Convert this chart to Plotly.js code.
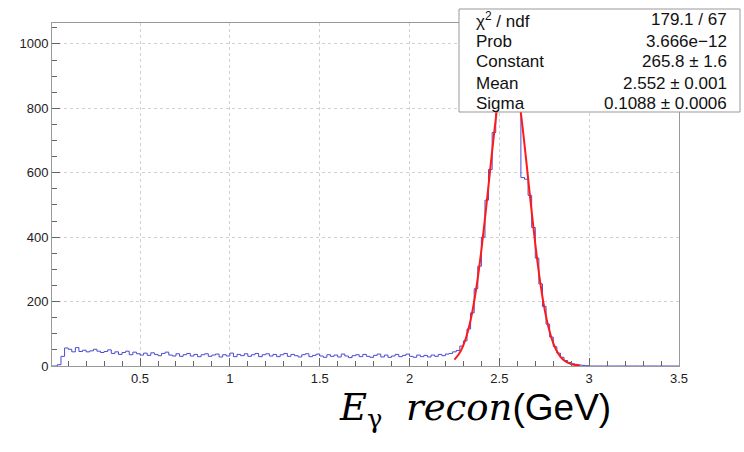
<!DOCTYPE html>
<html>
<head>
<meta charset="utf-8">
<script src="https://cdn.plot.ly/plotly-3.0.1.min.js"></script>
<style>
html,body{margin:0;padding:0;background:#fff;}
#chart{width:744px;height:452px;}
</style>
</head>
<body>
<div id="chart"></div>
<script>
// Histogram binning (GeV)
const binStart = 0.0;
const binWidth = 0.02;
// Counts per bin
const counts = [
  0, 0, 4, 30, 56, 52, 44, 57, 45, 49,
  44, 47, 52, 46, 42, 45, 50, 39, 44, 36,
  42, 46, 35, 43, 38, 34, 40, 33, 41, 36,
  32, 39, 43, 34, 31, 38, 30, 35, 39, 31,
  36, 29, 35, 38, 30, 34, 37, 28, 35, 31,
  40, 29, 36, 32, 38, 30, 35, 39, 29, 35,
  38, 31, 36, 29, 35, 39, 30, 36, 32, 28,
  35, 38, 29, 33, 37, 31, 27, 35, 30, 34,
  28, 37, 31, 26, 32, 35, 29, 36, 30, 27,
  33, 37, 28, 34, 27, 31, 36, 29, 33, 37,
  30, 27, 34, 29, 33, 28, 34, 30, 36, 32,
  37, 39, 44, 48, 62, 78, 115, 165, 240, 310,
  400, 515, 610, 725, 805, 890, 945, 1010, 965, 905,
  800, 585, 580, 530, 430, 335, 255, 185, 130, 90,
  60, 40, 27, 17, 11, 7, 5, 3, 2, 1,
  0, 0, 0, 0, 0, 0, 0, 0, 0, 0,
  0, 0, 0, 0, 0, 0, 0, 0, 0, 0,
  0, 0, 0, 0, 0
];
// Gaussian fit curve
const fitX = [2.25, 2.275, 2.30, 2.325, 2.35, 2.375, 2.40, 2.425, 2.45, 2.475, 2.50, 2.525, 2.55, 2.575, 2.60, 2.625, 2.65, 2.675, 2.70, 2.725, 2.75, 2.775, 2.80, 2.825, 2.85, 2.875, 2.90, 2.925, 2.95];
const fitY = [20, 37, 65, 108, 170, 254, 360, 483, 615, 743, 852, 926, 955, 934, 866, 762, 636, 504, 379, 270, 182, 117, 71, 41, 22, 12, 6, 3, 1];
// Stats box text
const statLabels = ["χ<sup>2</sup> / ndf", "Prob", "Constant", "Mean", "Sigma"];
const statValues = ["179.1 / 67", "3.666e−12", "265.8 ± 1.6", "2.552 ± 0.001", "0.1088 ± 0.0006"];
// Axis ticks
const xTickVals = [0.5, 1, 1.5, 2, 2.5, 3, 3.5];
const xTickText = ["0.5", "1", "1.5", "2", "2.5", "3", "3.5"];
const yTickVals = [0, 200, 400, 600, 800, 1000];
const yTickText = ["0", "200", "400", "600", "800", "1000"];

// Build step outline from bins
const hx = [], hy = [];
for (let i = 0; i < counts.length; i++) {
  hx.push(binStart + i * binWidth);
  hy.push(counts[i]);
}
hx.push(binStart + counts.length * binWidth);
hy.push(counts[counts.length - 1]);

const W = 744, H = 452;
const L = 52, R = 65, T = 23, B = 86;
const pw = W - L - R, ph = H - T - B;
const px = v => (v - L) / pw;
const py = v => (H - B - v) / ph;

const traces = [
  {x: hx, y: hy, type: 'scatter', mode: 'lines', line: {shape: 'hv', color: '#4a4ad2', width: 1}, hoverinfo: 'skip'},
  {x: fitX, y: fitY, type: 'scatter', mode: 'lines', line: {shape: 'spline', color: '#ff1a1a', width: 2}, hoverinfo: 'skip'}
];

const font = 'Liberation Sans, Arial, sans-serif';
const annotations = [];
const rowY = [20, 41, 62, 83, 103.5];
for (let i = 0; i < statLabels.length; i++) {
  annotations.push({xref: 'paper', yref: 'paper', x: px(474), y: py(rowY[i]), xanchor: 'left', yanchor: 'middle',
    text: statLabels[i], showarrow: false, font: {family: font, size: 17, color: '#111'}});
  annotations.push({xref: 'paper', yref: 'paper', x: px(729), y: py(rowY[i]), xanchor: 'right', yanchor: 'middle',
    text: statValues[i], showarrow: false, font: {family: font, size: 17, color: '#111'}});
}
annotations.push({xref: 'paper', yref: 'paper', x: px(613), y: py(410), xanchor: 'right', yanchor: 'middle', showarrow: false,
  text: '<i>E</i><sub>γ</sub>\u00a0\u00a0<i>recon</i><span style="font-family:Liberation Sans">(GeV)</span>',
  font: {family: 'DejaVu Serif, Liberation Serif, serif', size: 37, color: '#000'}});

const layout = {
  width: W, height: H,
  margin: {l: L, r: R, t: T, b: B, pad: 0},
  paper_bgcolor: '#fff', plot_bgcolor: '#fff',
  showlegend: false,
  xaxis: {
    range: [0.01, 3.5], tickmode: 'array', tickvals: xTickVals, ticktext: xTickText,
    ticks: 'inside', ticklen: 8, tickcolor: '#666', tickwidth: 1,
    minor: {dtick: 0.1, tick0: 0, ticks: 'inside', ticklen: 5, tickcolor: '#666', showgrid: false},
    showgrid: true, gridcolor: '#d0d0d0', griddash: 'dot', gridwidth: 1,
    showline: true, linecolor: '#999', linewidth: 1, mirror: true, zeroline: false,
    tickfont: {family: font, size: 13, color: '#222'}
  },
  yaxis: {
    range: [0, 1065], tickmode: 'array', tickvals: yTickVals, ticktext: yTickText,
    ticks: 'inside', ticklen: 8, tickcolor: '#666', tickwidth: 1,
    minor: {dtick: 50, tick0: 0, ticks: 'inside', ticklen: 5, tickcolor: '#666', showgrid: false},
    showgrid: true, gridcolor: '#d0d0d0', griddash: 'dot', gridwidth: 1,
    showline: true, linecolor: '#999', linewidth: 1, mirror: true, zeroline: false,
    tickfont: {family: font, size: 13, color: '#222'}
  },
  shapes: [{type: 'rect', xref: 'paper', yref: 'paper', x0: px(459), x1: px(740), y0: py(112), y1: py(9),
    fillcolor: '#fff', line: {color: '#999', width: 1}, layer: 'above'}],
  annotations: annotations
};

Plotly.newPlot('chart', traces, layout, {staticPlot: true, displayModeBar: false});
</script>
</body>
</html>
